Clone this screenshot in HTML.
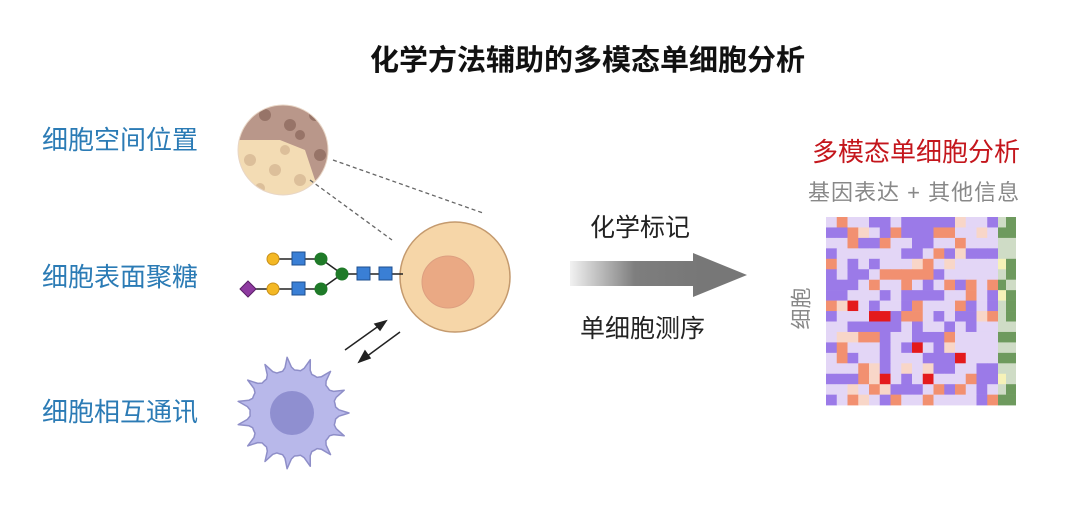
<!DOCTYPE html>
<html><head><meta charset="utf-8"><style>
body{margin:0;background:#fff;width:1080px;height:524px;overflow:hidden;position:relative;font-family:"Liberation Sans","Noto Sans CJK SC",sans-serif}
.t{position:absolute;white-space:nowrap;line-height:1}
.lbl{color:#2b7bb5;font-size:26px;left:42px}
</style></head><body>
<div class="t" style="left:370px;top:47px;font-size:29px;font-weight:bold;color:#111">化学方法辅助的多模态单细胞分析</div>
<div class="t lbl" style="top:127px">细胞空间位置</div>
<div class="t lbl" style="top:264px">细胞表面聚糖</div>
<div class="t lbl" style="top:399px">细胞相互通讯</div>
<div class="t" style="left:590px;top:216px;font-size:25px;color:#222">化学标记</div>
<div class="t" style="left:580px;top:317px;font-size:25px;color:#222">单细胞测序</div>
<div class="t" style="left:812px;top:139px;font-size:26px;color:#c4161c">多模态单细胞分析</div>
<div class="t" style="left:808px;top:182px;font-size:22px;color:#888;letter-spacing:1px">基因表达 + 其他信息</div>
<div class="t" style="left:781px;top:298px;font-size:21px;color:#888;transform:rotate(-90deg)">细胞</div>
<svg width="1080" height="524" style="position:absolute;left:0;top:0">
<defs>
<linearGradient id="ag" x1="570" x2="700" y1="0" y2="0" gradientUnits="userSpaceOnUse"><stop offset="0" stop-color="#777" stop-opacity="0.1"/><stop offset="0.5" stop-color="#777" stop-opacity="0.95"/><stop offset="1" stop-color="#777"/></linearGradient>
<clipPath id="cc"><circle cx="283" cy="150" r="45"/></clipPath>
</defs>
<polygon points="570,261 693,261 693,253 747,275 693,297 693,286 570,286" fill="url(#ag)"/>
<g clip-path="url(#cc)">
<rect x="230" y="100" width="110" height="100" fill="#f3dcb4"/>
<path d="M230,100 L340,100 L340,190 L315,180 L305,150 L280,140 L240,140 L230,145Z" fill="#b9978a"/>
<g fill="#977468"><circle cx="265" cy="115" r="6"/><circle cx="290" cy="125" r="6"/><circle cx="315" cy="115" r="6"/><circle cx="320" cy="155" r="6"/><circle cx="300" cy="135" r="5"/></g>
<g fill="#dcbf9a"><circle cx="250" cy="160" r="6"/><circle cx="275" cy="170" r="6"/><circle cx="300" cy="180" r="6"/><circle cx="260" cy="188" r="5"/><circle cx="285" cy="150" r="5"/></g>
</g>
<circle cx="283" cy="150" r="45" fill="none" stroke="#e8d6c6" stroke-width="1"/>
<g stroke="#666" stroke-width="1.3" stroke-dasharray="4,3"><line x1="333" y1="160" x2="483" y2="213"/><line x1="310" y1="180" x2="392" y2="240"/></g>
<circle cx="455" cy="277" r="55" fill="#f6d6a8" stroke="#c49a6e" stroke-width="1.5"/>
<circle cx="448" cy="282" r="26" fill="#eaa984" stroke="#dd9f80"/>
<g stroke="#222" stroke-width="1.5"><line x1="273" y1="259" x2="321" y2="259"/><line x1="248" y1="289" x2="321" y2="289"/><line x1="321" y1="259" x2="342" y2="274"/><line x1="321" y1="289" x2="342" y2="274"/><line x1="342" y1="274" x2="403" y2="274"/></g>
<g fill="#f4b824" stroke="#c8901a"><circle cx="273" cy="259" r="6"/><circle cx="273" cy="289" r="6"/></g>
<g fill="#3a7fd5" stroke="#1e4f8f"><rect x="292" y="252" width="13" height="13"/><rect x="292" y="282" width="13" height="13"/><rect x="357" y="267" width="13" height="13"/><rect x="379" y="267" width="13" height="13"/></g>
<g fill="#1f7a28"><circle cx="321" cy="259" r="6.5"/><circle cx="321" cy="289" r="6.5"/><circle cx="342" cy="274" r="6.5"/></g>
<polygon points="248,281 256,289 248,297 240,289" fill="#8e3aa0" stroke="#5a2067"/>
<g stroke="#222" stroke-width="1.5" fill="#222"><line x1="345" y1="350" x2="380" y2="325"/><polygon points="386,321 375,324 380,330"/><line x1="400" y1="332" x2="366" y2="357"/><polygon points="359,362 365,351 370,358"/></g>
<path id="imm" fill="#b8b8ea" stroke="#8e8ec8" stroke-width="1.5" stroke-linejoin="round"/>
<circle cx="292" cy="413" r="22" fill="#8f8fd0"/>
<g id="hm"></g>
</svg>
<script>
(function(){var cx=293,cy=413,p=[],n=15;for(var i=0;i<n*6;i++){var a=i/(n*6)*Math.PI*2,k=i%6,r=(k==0)?56:(k==1||k==5?46:43);p.push((cx+r*Math.cos(a)).toFixed(1)+","+(cy+r*Math.sin(a)).toFixed(1));}document.getElementById('imm').setAttribute('d','M'+p.join('L')+'Z');})();
(function(){var s=7,R=function(){s=(s*16807)%2147483647;return s/2147483647;};var g=document.getElementById('hm'),h='';var x0=826,y0=217,cw=10.75,ch=10.45;for(var r=0;r<18;r++){for(var c=0;c<16;c++){var v=R(),col;if(v<0.45)col='#e3d6f6';else if(v<0.77)col='#9b7ae8';else if(v<0.87)col='#f8d6c8';else if(v<0.95)col='#f29070';else if(v<0.975)col='#e3d6f6';else col='#e41a1c';h+='<rect x="'+(x0+c*cw)+'" y="'+(y0+r*ch)+'" width="'+(cw+0.3)+'" height="'+(ch+0.3)+'" fill="'+col+'"/>';}var w=R(),gc=w<0.35?'#6e9a5e':(w<0.85?'#cfdcc6':'#f6f2b8');h+='<rect x="998" y="'+(y0+r*ch)+'" width="8" height="'+(ch+0.3)+'" fill="'+gc+'"/><rect x="1006" y="'+(y0+r*ch)+'" width="10" height="'+(ch+0.3)+'" fill="'+(R()<0.4?'#6e9a5e':'#cfdcc6')+'"/>';}g.innerHTML=h;})();
</script>
</body></html>
